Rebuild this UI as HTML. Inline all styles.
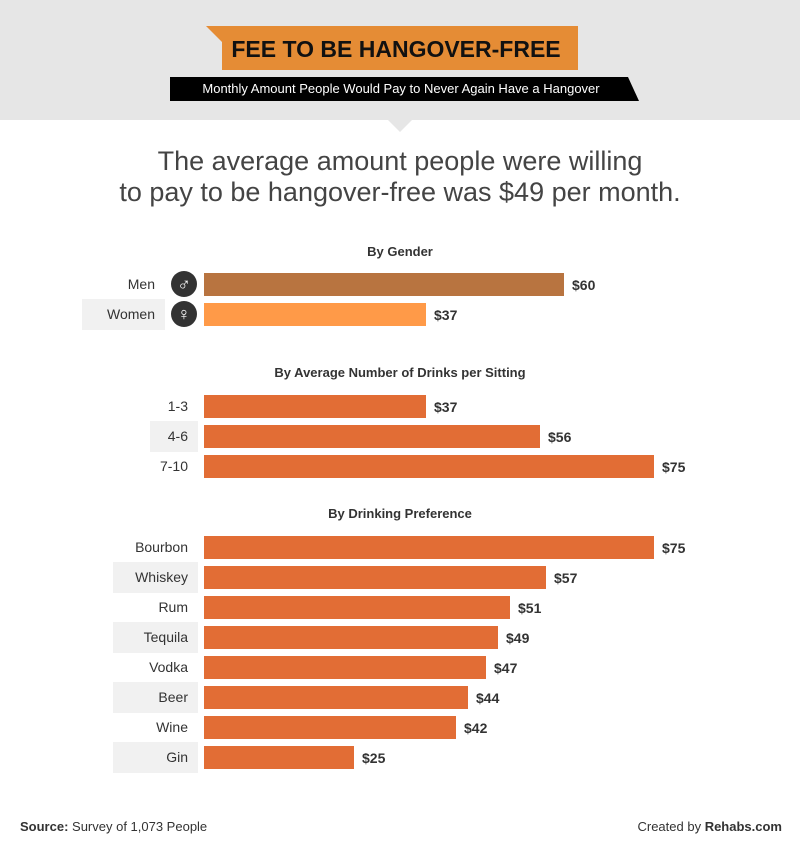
<!DOCTYPE html>
<html><head><meta charset="utf-8"><style>
body{margin:0;width:800px;height:846px;background:#fff;font-family:"Liberation Sans",sans-serif;position:relative;overflow:hidden}
.abs{position:absolute}
.lbl{position:absolute;text-align:right;font-size:14px;color:#333;line-height:22px}
.val{position:absolute;font-size:14px;font-weight:bold;color:#333;line-height:22px}
.sec{position:absolute;left:0;width:800px;text-align:center;font-size:13px;font-weight:bold;color:#333}
</style></head><body>
<div class="abs" style="left:0;top:0;width:800px;height:120px;background:#e6e6e6"></div>
<svg class="abs" style="left:0;top:0" width="800" height="140">
<polygon points="206,26 578,26 578,70 222,70 222,42" fill="#e58c35"/>
<polygon points="170,77 628,77 639,101 170,101" fill="#000"/>
<polygon points="388,120 412,120 400,132" fill="#e6e6e6"/>
</svg>
<div class="abs" style="left:206px;top:26px;width:372px;height:44px;line-height:46px;text-align:center;font-size:23px;font-weight:bold;color:#111;padding-left:8px;box-sizing:border-box">FEE TO BE HANGOVER-FREE</div>
<div class="abs" style="left:170px;top:77px;width:462px;height:24px;line-height:24px;text-align:center;font-size:13px;color:#fff">Monthly Amount People Would Pay to Never Again Have a Hangover</div>
<div class="abs" style="left:0;top:146px;width:800px;text-align:center;font-size:27px;line-height:31px;color:#444">The average amount people were willing<br>to pay to be hangover-free was $49 per month.</div>
<div class="sec" style="top:244px">By Gender</div>
<div class="sec" style="top:365px">By Average Number of Drinks per Sitting</div>
<div class="sec" style="top:506px">By Drinking Preference</div>
<div id="chart"></div>
<div class="abs" style="left:20px;top:819px;font-size:13px;color:#333"><b>Source:</b> Survey of 1,073 People</div>
<div class="abs" style="right:18px;top:819px;font-size:13px;color:#333">Created by <b>Rehabs.com</b></div>
<script>
const genderCats=["Men","Women"];
const genderVals=[60,37];
const drinkCats=["1-3","4-6","7-10"];
const drinkVals=[37,56,75];
const prefCats=["Bourbon","Whiskey","Rum","Tequila","Vodka","Beer","Wine","Gin"];
const prefVals=[75,57,51,49,47,44,42,25];
const x0=204, pxPer=6;
function xs(v){return v*pxPer;}
const root=document.getElementById('chart');
function group(cats,vals,top,boxLeft,colors,icons){
  cats.forEach((c,i)=>{
    const y=top+i*30;
    if(i%2===1){
      const b=document.createElement('div');
      
      
      b.className='abs';
      b.style.cssText=`left:${boxLeft}px;top:${y-4}px;width:${(icons?165:198)-boxLeft}px;height:31px;background:#f1f1f1`;
      root.appendChild(b);
    }
    const l=document.createElement('div');
    
    
    l.className='lbl';
    l.style.cssText=`left:0;width:${icons?155:188}px;top:${y}px`;
    l.textContent=c;root.appendChild(l);
    if(icons){
      const ic=document.createElement('div');
      
      
      ic.className='abs';
      ic.style.cssText=`left:171px;top:${y-2}px;width:26px;height:26px;border-radius:50%;background:#333;color:#fff;text-align:center;line-height:26px;font-size:18px;font-weight:bold`;
      ic.textContent=icons[i];root.appendChild(ic);
    }
    const bar=document.createElement('div');
    
    
    bar.className='abs';
    bar.style.cssText=`left:${x0}px;top:${y}px;width:${xs(vals[i])}px;height:23px;background:${colors[i]||colors[0]}`;
    root.appendChild(bar);
    const v=document.createElement('div');
    
    
    v.className='val';
    v.style.cssText=`left:${x0+xs(vals[i])+8}px;top:${y+1}px`;
    v.textContent='$'+vals[i];root.appendChild(v);
  });
}
group(genderCats,genderVals,273,82,["#b87440","#ff9a48"],["♂","♀"]);
group(drinkCats,drinkVals,395,150,["#e26d35"],null);
group(prefCats,prefVals,536,113,["#e26d35"],null);
</script>
</body></html>
